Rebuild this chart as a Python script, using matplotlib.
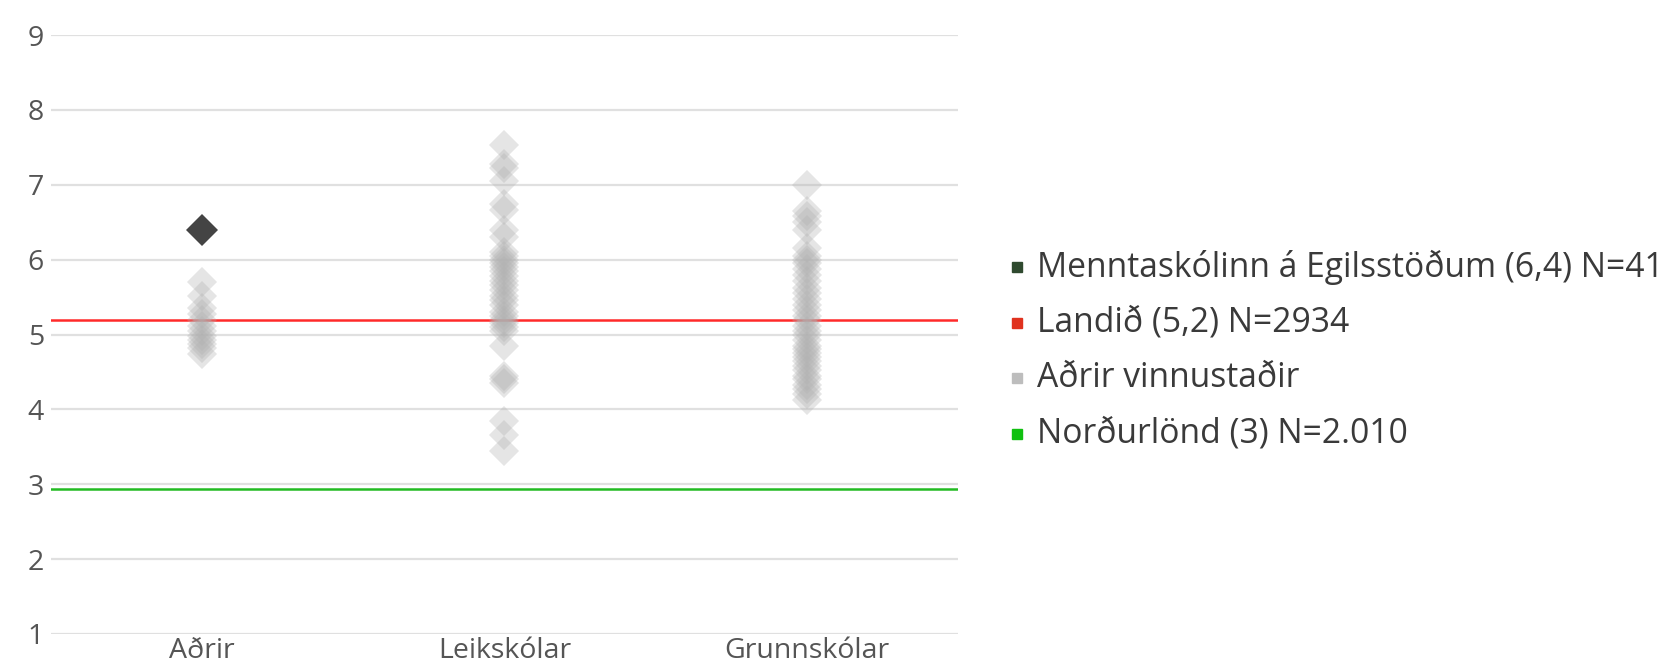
import matplotlib
matplotlib.use("Agg")
import matplotlib.pyplot as plt
from matplotlib.lines import Line2D

categories = ["Aðrir", "Leikskólar", "Grunnskólar"]
y_ticks = [1, 2, 3, 4, 5, 6, 7, 8, 9]

highlight_cat = 0
highlight_value = 6.4

adrir_values = [5.70, 5.52, 5.36, 5.28, 5.20, 5.12, 5.05, 4.98, 4.92, 4.87, 4.82, 4.74]
leik_values = [7.53, 7.28, 7.22, 7.05, 6.74, 6.66, 6.40, 6.30, 6.10, 6.05, 6.00, 5.95,
               5.90, 5.85, 5.78, 5.72, 5.66, 5.60, 5.52, 5.46, 5.40, 5.30, 5.25, 5.20,
               5.15, 5.10, 5.05, 4.85, 4.45, 4.40, 4.35, 3.85, 3.66, 3.45]
grunn_values = [7.00, 6.65, 6.58, 6.50, 6.40, 6.15, 6.05, 6.00, 5.95, 5.88, 5.80, 5.72,
                5.62, 5.55, 5.48, 5.40, 5.33, 5.25, 5.20, 5.12, 5.05, 5.00, 4.92, 4.85,
                4.80, 4.75, 4.70, 4.65, 4.58, 4.52, 4.45, 4.40, 4.33, 4.27, 4.20, 4.12]

landid_value = 5.2
nordur_value = 2.93

legend_labels = ["Menntaskólinn á Egilsstöðum (6,4) N=41",
                 "Landið (5,2) N=2934",
                 "Aðrir vinnustaðir",
                 "Norðurlönd (3) N=2.010"]
legend_colors = ["#2f4a2f", "#e0321e", "#bdbdbd", "#10c010"]

plt.rcParams['font.family'] = ['Open Sans', 'DejaVu Sans']

fig = plt.figure(figsize=(16.63, 6.68), dpi=100)
ax = fig.add_axes([0.0307, 0.0509, 0.576 - 0.0307, 0.9476 - 0.0509])

ax.set_xlim(-0.5, 2.5)
ax.set_ylim(1, 9)
ax.set_yticks(y_ticks)
ax.set_yticklabels([str(t) for t in y_ticks])
ax.set_xticks(range(len(categories)))
ax.set_xticklabels(categories)
ax.grid(axis='y', color='#e0e0e0', linewidth=1.6)
ax.set_axisbelow(True)
for s in ax.spines.values():
    s.set_visible(False)
ax.tick_params(axis='both', length=0, labelsize=20.5, colors='#555555')
ax.tick_params(axis='y', pad=5)
ax.tick_params(axis='x', pad=2)

all_series = [adrir_values, leik_values, grunn_values]
for i, vals in enumerate(all_series):
    ax.plot([i] * len(vals), vals, linestyle='none', marker='D', markersize=15,
            color='#b0b0b0', alpha=0.33, markeredgewidth=0, zorder=3)

ax.axhline(landid_value, color='#ff2a2a', linewidth=1.8, zorder=2)
ax.axhline(nordur_value, color='#22bb22', linewidth=1.8, zorder=2)

ax.plot([highlight_cat], [highlight_value], linestyle='none', marker='D', markersize=16,
        color='#444444', markeredgewidth=0, zorder=4)

# legend
y0 = 0.600
dy = 0.083
for k, (lab, col) in enumerate(zip(legend_labels, legend_colors)):
    y = y0 - k * dy
    fig.add_artist(Line2D([0.6115], [y], marker='s', markersize=7, color=col,
                          linestyle='none', transform=fig.transFigure))
    fig.text(0.6235, y, lab, fontsize=24.2, color='#3a3a3a', va='center', ha='left')

fig.savefig("out.png", dpi=100, facecolor='white')
